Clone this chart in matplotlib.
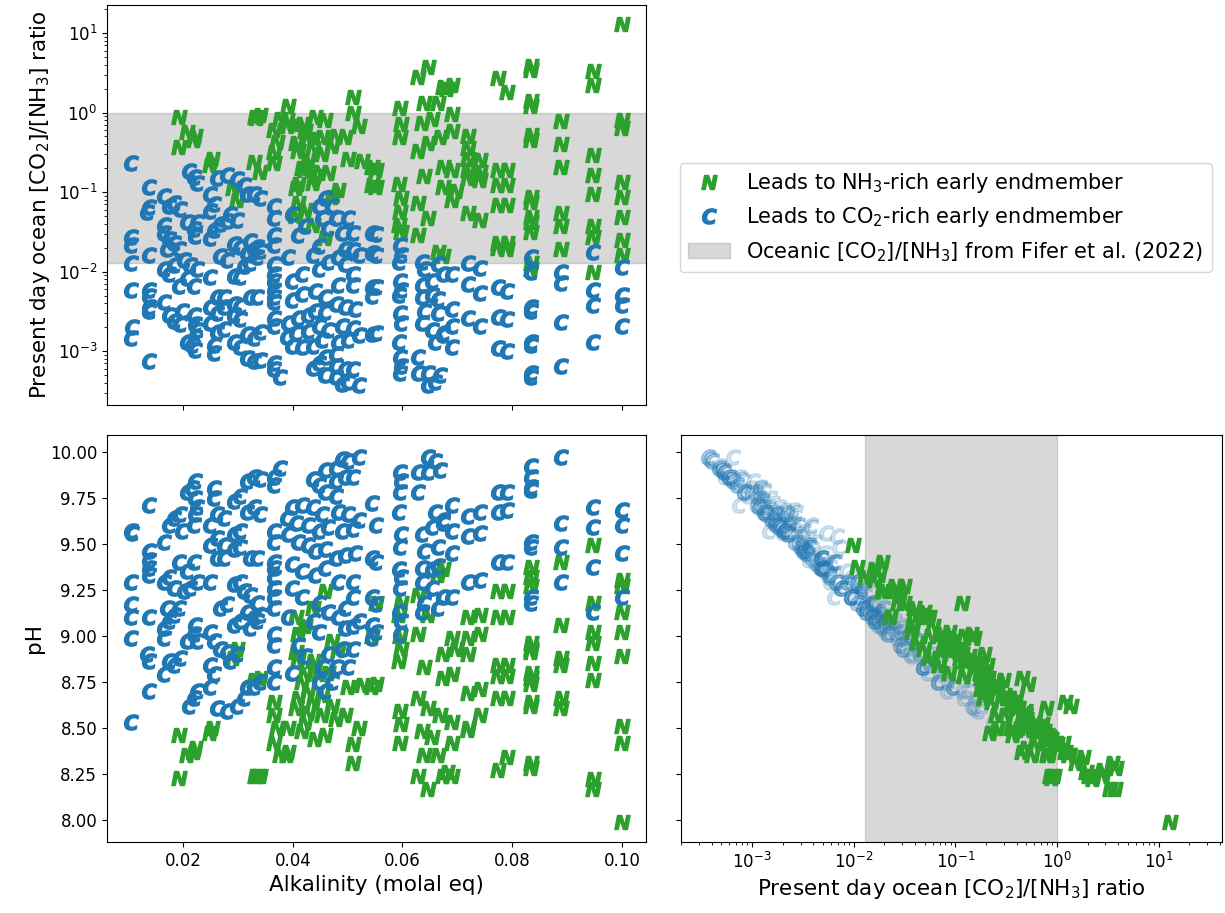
import matplotlib.pyplot as plt
import numpy as np

plt.rcParams['font.size'] = 12

# runs that end up CO2-rich: alkalinity, pH, log10 of present-day [CO2]/[NH3]
c_alk = [
    0.0105, 0.0105, 0.0105, 0.0105, 0.0105, 0.0105, 0.0106,
    0.0138, 0.0138, 0.0138, 0.0138, 0.0138, 0.0138, 0.0138, 0.0138,
    0.0165, 0.0174, 0.0184, 0.0195, 0.0207, 0.0216, 0.0222, 0.0222, 0.0226, 0.0222,
    0.0220, 0.0198, 0.0165, 0.0174, 0.0184, 0.0193, 0.0207, 0.0220, 0.0226, 0.0213,
    0.0202, 0.0171, 0.0184, 0.0193, 0.0165, 0.0174, 0.0165, 0.0207, 0.0220, 0.0226,
    0.0222, 0.0134, 0.0174, 0.0184, 0.0195, 0.0165, 0.0211, 0.0220, 0.0226,
    0.0249, 0.0262, 0.0275, 0.0249, 0.0262, 0.0275, 0.0293, 0.0304, 0.0257, 0.0257,
    0.0293, 0.0304, 0.0317, 0.0330, 0.0341, 0.0317, 0.0330, 0.0341, 0.0262, 0.0275,
    0.0293, 0.0304, 0.0322, 0.0335, 0.0249, 0.0293, 0.0304, 0.0268, 0.0280, 0.0311,
    0.0322, 0.0335, 0.0317, 0.0330, 0.0341, 0.0293, 0.0304, 0.0249, 0.0257, 0.0268,
    0.0280, 0.0249, 0.0257, 0.0249, 0.0262, 0.0280, 0.0299, 0.0311, 0.0317, 0.0330,
    0.0341, 0.0286, 0.0299, 0.0322, 0.0335,
    0.0366, 0.0366, 0.0366, 0.0366, 0.0366, 0.0366, 0.0366, 0.0366, 0.0366, 0.0366,
    0.0366, 0.0366, 0.0377, 0.0366, 0.0366, 0.0390,
    0.0436, 0.0447, 0.0459, 0.0478, 0.0490, 0.0501, 0.0520, 0.0478, 0.0496, 0.0509,
    0.0459, 0.0478, 0.0399, 0.0417, 0.0436, 0.0454, 0.0483, 0.0501, 0.0520, 0.0405,
    0.0428, 0.0447, 0.0465, 0.0490, 0.0509, 0.0392, 0.0410, 0.0428, 0.0441, 0.0459,
    0.0478, 0.0496, 0.0514, 0.0399, 0.0417, 0.0441, 0.0459, 0.0483, 0.0509, 0.0399,
    0.0417, 0.0447, 0.0465, 0.0483, 0.0496, 0.0509, 0.0392, 0.0436, 0.0447, 0.0496,
    0.0509, 0.0520, 0.0410, 0.0465, 0.0490, 0.0509, 0.0423, 0.0399, 0.0454, 0.0478,
    0.0501, 0.0447, 0.0459, 0.0472,
    0.0545, 0.0552, 0.0545, 0.0552, 0.0545, 0.0552, 0.0545, 0.0552, 0.0545,
    0.0595, 0.0598, 0.0595, 0.0593, 0.0598, 0.0595, 0.0593, 0.0598, 0.0595, 0.0593, 0.0598, 0.0595,
    0.0647, 0.0660, 0.0629, 0.0647, 0.0669, 0.0629, 0.0660, 0.0673, 0.0636, 0.0653, 0.0673,
    0.0640, 0.0664, 0.0636, 0.0653, 0.0664, 0.0636, 0.0653, 0.0673, 0.0640, 0.0664, 0.0636,
    0.0691, 0.0691, 0.0691, 0.0691, 0.0720, 0.0720, 0.0720, 0.0742, 0.0742, 0.0742,
    0.0775, 0.0775, 0.0775, 0.0790, 0.0790, 0.0790,
    0.0834, 0.0834, 0.0834, 0.0834, 0.0834, 0.0834, 0.0834, 0.0834,
    0.0889, 0.0889, 0.0889, 0.0889, 0.0947, 0.0947, 0.0947, 0.0947, 0.1000, 0.1000, 0.1000, 0.1000,
]
c_ph = [
    8.53, 8.99, 9.10, 9.17, 9.29, 9.57, 9.56,
    8.70, 8.86, 9.10, 9.33, 9.37, 9.41, 9.46, 9.71,
    9.51, 9.60, 9.64, 9.66, 9.78, 9.80, 9.84, 9.75, 9.70, 9.66,
    9.60, 9.57, 9.29, 9.32, 9.26, 9.40, 9.35, 9.40, 9.29, 9.26,
    9.24, 9.15, 9.11, 9.15, 9.04, 9.08, 8.99, 8.97, 9.01, 8.97,
    9.06, 8.90, 8.86, 8.84, 8.88, 8.79, 8.62, 8.66, 8.70,
    9.60, 9.66, 9.64, 9.49, 9.53, 9.49, 9.55, 9.57, 9.80, 9.75,
    9.73, 9.76, 9.84, 9.86, 9.85, 9.67, 9.70, 9.66, 9.42, 9.42,
    9.47, 9.48, 9.42, 9.42, 9.29, 9.28, 9.29, 9.15, 9.17, 9.24,
    9.22, 9.18, 9.13, 9.10, 9.11, 9.06, 9.08, 9.02, 8.97, 8.93,
    8.91, 8.84, 8.79, 8.72, 8.61, 8.59, 8.62, 8.66, 8.72, 8.72,
    8.75, 8.86, 8.90, 9.04, 9.08,
    9.57, 9.51, 9.40, 9.37, 9.32, 9.26, 9.21, 9.15, 9.01, 8.95,
    8.83, 8.75, 9.91, 9.86, 9.82, 9.64,
    9.85, 9.82, 9.90, 9.91, 9.96, 9.95, 9.97, 9.84, 9.86, 9.86,
    9.78, 9.76, 9.70, 9.71, 9.70, 9.66, 9.67, 9.66, 9.63, 9.61,
    9.60, 9.57, 9.59, 9.57, 9.58, 9.55, 9.51, 9.49, 9.46, 9.47,
    9.42, 9.44, 9.45, 9.39, 9.35, 9.33, 9.37, 9.29, 9.29, 9.26,
    9.21, 9.18, 9.13, 9.10, 9.15, 9.21, 9.10, 9.08, 9.02, 9.04,
    9.05, 9.08, 8.95, 8.90, 8.93, 8.93, 8.89, 8.80, 8.83, 8.83,
    8.83, 8.75, 8.70, 8.75,
    8.99, 9.02, 9.06, 9.17, 9.21, 9.40, 9.42, 9.60, 9.72,
    9.89, 9.84, 9.78, 9.67, 9.55, 9.48, 9.36, 9.32, 9.26, 9.13, 9.08, 9.01,
    9.97, 9.95, 9.89, 9.89, 9.90, 9.78, 9.67, 9.63, 9.55, 9.59, 9.61,
    9.46, 9.48, 9.37, 9.36, 9.38, 9.29, 9.26, 9.21, 9.18, 9.15, 9.13,
    9.71, 9.57, 9.45, 9.21, 9.65, 9.54, 9.29, 9.67, 9.56, 9.30,
    9.40, 9.67, 9.78, 9.40, 9.68, 9.78,
    9.18, 9.21, 9.48, 9.51, 9.79, 9.81, 9.86, 9.92,
    9.29, 9.48, 9.61, 9.97, 9.13, 9.375, 9.59, 9.70, 9.21, 9.45, 9.60, 9.685,
]
c_logr = [
    -0.63, -1.57, -1.66, -1.89, -2.23, -2.83, -2.70,
    -0.93, -1.19, -1.79, -2.23, -2.31, -2.44, -2.50, -3.13,
    -2.38, -2.55, -2.62, -2.66, -2.88, -2.92, -2.99, -2.82, -2.73, -2.66,
    -2.55, -2.49, -1.97, -2.03, -1.92, -2.18, -2.08, -2.18, -1.97, -1.92,
    -1.86, -1.71, -1.64, -1.71, -1.51, -1.59, -1.42, -1.38, -1.46, -1.38,
    -1.55, -1.25, -1.18, -1.14, -1.21, -1.05, -0.74, -0.81, -0.88,
    -2.65, -2.76, -2.72, -2.44, -2.52, -2.44, -2.55, -2.59, -3.02, -2.92,
    -2.89, -2.95, -3.09, -3.13, -3.11, -2.78, -2.83, -2.76, -2.32, -2.32,
    -2.41, -2.43, -2.32, -2.32, -2.07, -2.05, -2.07, -1.81, -1.85, -1.93,
    -1.89, -1.82, -1.77, -1.72, -1.74, -1.65, -1.69, -1.58, -1.48, -1.40,
    -1.36, -1.24, -1.15, -1.02, -0.82, -0.78, -0.84, -0.91, -1.02, -1.02,
    -1.07, -1.28, -1.35, -1.61, -1.69,
    -2.69, -2.58, -2.38, -2.32, -2.23, -2.12, -2.03, -1.91, -1.66, -1.54,
    -1.32, -1.17, -3.32, -3.23, -3.15, -2.82,
    -3.21, -3.15, -3.30, -3.32, -3.41, -3.39, -3.43, -3.19, -3.23, -3.23,
    -3.08, -3.04, -2.93, -2.95, -2.93, -2.86, -2.88, -2.86, -2.80, -2.77,
    -2.75, -2.69, -2.73, -2.69, -2.71, -2.65, -2.58, -2.54, -2.49, -2.51,
    -2.41, -2.45, -2.47, -2.36, -2.28, -2.25, -2.32, -2.17, -2.17, -2.12,
    -2.03, -1.97, -1.88, -1.82, -1.91, -2.03, -1.82, -1.79, -1.68, -1.71,
    -1.73, -1.79, -1.54, -1.45, -1.51, -1.51, -1.43, -1.27, -1.32, -1.32,
    -1.32, -1.17, -1.08, -1.17,
    -1.51, -1.53, -1.76, -1.79, -2.19, -2.20, -2.31, -2.77, -2.79,
    -3.28, -3.19, -3.08, -2.88, -2.65, -2.52, -2.30, -2.23, -2.12, -1.88, -1.79, -1.66,
    -3.43, -3.39, -3.28, -3.28, -3.30, -3.08, -2.88, -2.80, -2.65, -2.73, -2.77,
    -2.49, -2.52, -2.32, -2.30, -2.34, -2.17, -2.12, -2.03, -1.97, -1.91, -1.88,
    -2.95, -2.69, -2.47, -2.03, -2.58, -2.16, -1.89, -2.69, -2.27, -1.95,
    -2.20, -2.57, -2.96, -2.25, -2.60, -3.00,
    -1.82, -2.00, -2.44, -2.50, -2.88, -2.92, -3.27, -3.32,
    -2.01, -2.14, -2.63, -3.19, -1.75, -2.23, -2.42, -2.88, -1.94, -2.29, -2.42, -2.69,
]

# runs that end up NH3-rich
n_alk = [
    0.0193, 0.0193, 0.0207, 0.0222, 0.0220, 0.0253, 0.0249, 0.0299, 0.0290, 0.0330, 0.0341,
    0.0331, 0.0341, 0.0335, 0.0366, 0.0366, 0.0372, 0.0366, 0.0390, 0.0377,
    0.0459, 0.0436, 0.0410, 0.0405, 0.0423, 0.0441, 0.0410, 0.0436, 0.0454, 0.0405,
    0.0423, 0.0392, 0.0392, 0.0501, 0.0527, 0.0496, 0.0520, 0.0509, 0.0509, 0.0472,
    0.0410, 0.0417, 0.0428, 0.0436, 0.0447, 0.0454, 0.0465, 0.0472,
    0.0478, 0.0417, 0.0428, 0.0441, 0.0459, 0.0483, 0.0405, 0.0423,
    0.0545, 0.0552, 0.0545, 0.0552, 0.0595, 0.0598, 0.0595, 0.0593, 0.0598, 0.0595, 0.0593, 0.0598,
    0.0664, 0.0673, 0.0629, 0.0647, 0.0629, 0.0673, 0.0640, 0.0673, 0.0629, 0.0647,
    0.0669, 0.0636, 0.0653, 0.0640, 0.0664, 0.0629, 0.0647, 0.0673, 0.0691,
    0.0691, 0.0698, 0.0691, 0.0691, 0.0691, 0.0682,
    0.0720, 0.0720, 0.0720, 0.0720, 0.0720, 0.0720, 0.0742, 0.0742, 0.0742, 0.0742,
    0.0775, 0.0775, 0.0775, 0.0775, 0.0775, 0.0775, 0.0790, 0.0790, 0.0790, 0.0790, 0.0790, 0.0790,
    0.0834, 0.0834, 0.0834, 0.0834, 0.0834, 0.0834, 0.0834, 0.0834, 0.0834, 0.0834, 0.0834, 0.0834, 0.0834,
    0.0889, 0.0889, 0.0889, 0.0889, 0.0889, 0.0889,
    0.0947, 0.0947, 0.0947, 0.0947, 0.0947, 0.0947, 0.0947, 0.0947,
    0.1000, 0.1000, 0.1000, 0.1000, 0.1000, 0.1000, 0.1000, 0.1000,
]
n_ph = [
    8.23, 8.46, 8.35, 8.39, 8.37, 8.50, 8.47, 8.93, 8.88, 8.76, 8.77,
    8.24, 8.24, 8.24, 8.64, 8.57, 8.50, 8.42, 8.35, 8.35,
    9.24, 9.15, 9.01, 8.91, 8.79, 8.83, 8.66, 8.64, 8.57, 8.61,
    8.53, 8.50, 8.37, 8.72, 8.73, 8.57, 8.50, 8.41, 8.31, 8.97,
    8.87, 8.75, 8.70, 8.86, 8.79, 8.68, 8.80, 8.62,
    8.55, 8.48, 8.58, 8.44, 8.46, 8.92, 9.10, 9.05,
    8.72, 8.74, 9.00, 9.18, 8.42, 8.52, 8.59, 8.86, 8.93, 9.00, 9.11, 9.18,
    9.33, 9.36, 9.22, 9.11, 9.01, 8.90, 8.83, 8.77, 8.66, 8.61,
    8.57, 8.48, 8.45, 8.35, 8.35, 8.24, 8.17, 8.24, 8.24,
    8.99, 8.93, 8.79, 8.53, 8.42, 8.26,
    8.49, 8.50, 8.69, 8.90, 8.99, 9.10, 8.57, 8.71, 9.01, 9.11,
    8.27, 8.66, 8.78, 8.84, 9.10, 9.24, 8.34, 8.66, 8.78, 8.84, 9.10, 9.24,
    8.28, 8.31, 8.62, 8.64, 8.74, 8.77, 8.80, 8.91, 8.93, 8.96, 9.27, 9.32, 9.375,
    8.61, 8.66, 8.84, 8.88, 9.06, 9.40,
    8.17, 8.22, 8.76, 8.85, 8.96, 9.02, 9.18, 9.49,
    7.99, 8.42, 8.51, 8.89, 9.02, 9.13, 9.27, 9.30,
]
n_logr = [
    -0.05, -0.43, -0.25, -0.30, -0.34, -0.59, -0.66, -1.10, -0.95, -0.62, -0.75,
    -0.05, -0.03, -0.07, -0.64, -0.50, -0.37, -0.22, -0.10, -0.08,
    -1.58, -1.41, -1.14, -0.95, -0.72, -0.80, -0.48, -0.44, -0.31, -0.38,
    -0.23, -0.17, 0.08, -0.59, -0.61, -0.31, -0.17, 0.00, 0.19, -1.06,
    -0.90, -0.70, -0.60, -0.88, -0.75, -0.52, -0.76, -0.42,
    -0.30, -0.15, -0.33, -0.06, -0.10, -0.98, -1.30, -1.22,
    -0.69, -0.72, -0.91, -0.93, 0.06, -0.15, -0.31, -0.90, -1.07, -1.25, -1.41, -1.50,
    -1.75, -1.80, -1.54, -1.33, -1.14, -0.93, -0.80, -0.68, -0.48, -0.38,
    -0.31, -0.13, -0.08, 0.12, 0.12, 0.45, 0.57, 0.32, 0.35,
    -1.10, -0.99, -0.72, -0.23, -0.02, 0.29,
    -0.30, -0.45, -0.59, -0.72, -0.82, -1.26, -0.60, -0.75, -0.85, -1.35,
    0.44, -0.72, -0.91, -1.16, -1.64, -1.70, 0.26, -0.72, -0.91, -1.16, -1.64, -1.72,
    0.58, 0.54, 0.14, 0.08, -0.28, -0.34, -1.06, -1.13, -1.31, -1.38, -1.50, -1.89, -1.97,
    -0.11, -0.40, -0.69, -1.26, -1.43, -1.72,
    0.52, 0.35, -0.53, -0.78, -1.03, -1.43, -1.56, -2.01,
    1.11, -0.09, -0.19, -0.87, -1.06, -1.31, -1.60, -1.79,
]

# Fifer et al. (2022) range of oceanic [CO2]/[NH3]
fifer_range = [0.0128, 1.0]

c_ratio = 10 ** np.array(c_logr)
n_ratio = 10 ** np.array(n_logr)

mk_c = r'$\boldsymbol{C}$'
mk_n = r'$\boldsymbol{N}$'
ms = 11
label_fs = 15.5
ratio_label = 'Present day ocean [CO$_2$]/[NH$_3$] ratio'

fig = plt.figure(figsize=(12.25, 9.13), dpi=100)
ax1 = fig.add_axes([0.0873, 0.5564, 0.440, 0.4381])
ax3 = fig.add_axes([0.0873, 0.0778, 0.440, 0.4458], sharex=ax1)
ax4 = fig.add_axes([0.5559, 0.0778, 0.4416, 0.4458], sharey=ax3)

# top left: ratio vs alkalinity
ax1.plot(n_alk, n_ratio, ls='none', marker=mk_n, ms=ms, color='tab:green',
         label='Leads to NH$_3$-rich early endmember')
ax1.plot(c_alk, c_ratio, ls='none', marker=mk_c, ms=ms, color='tab:blue',
         label='Leads to CO$_2$-rich early endmember')
ax1.axhspan(fifer_range[0], fifer_range[1], color='grey', alpha=0.3,
            label='Oceanic [CO$_2$]/[NH$_3$] from Fifer et al. (2022)')
ax1.set_yscale('log')
ax1.set_ylim(2.1e-4, 22.5)
ax1.set_ylabel(ratio_label, fontsize=label_fs)
ax1.tick_params(labelbottom=False)

# bottom left: pH vs alkalinity
ax3.plot(n_alk, n_ph, ls='none', marker=mk_n, ms=ms, color='tab:green')
ax3.plot(c_alk, c_ph, ls='none', marker=mk_c, ms=ms, color='tab:blue')
ax3.set_xlim(0.0061, 0.1044)
ax3.set_ylim(7.88, 10.09)
ax3.set_xlabel('Alkalinity (molal eq)', fontsize=label_fs)
ax3.set_ylabel('pH', fontsize=label_fs)

# bottom right: pH vs ratio
ax4.plot(c_ratio, c_ph, ls='none', marker=mk_c, ms=ms, color='tab:blue', alpha=0.2)
ax4.plot(n_ratio, n_ph, ls='none', marker=mk_n, ms=ms, color='tab:green')
ax4.axvspan(fifer_range[0], fifer_range[1], color='grey', alpha=0.3)
ax4.set_xscale('log')
ax4.set_xlim(2e-4, 42)
ax4.set_xlabel(ratio_label, fontsize=label_fs)
ax4.tick_params(labelleft=False)

h, l = ax1.get_legend_handles_labels()
fig.legend(h, l, loc='center', bbox_to_anchor=(0.772, 0.762), fontsize=15)

fig.savefig('out.png', dpi=100)
